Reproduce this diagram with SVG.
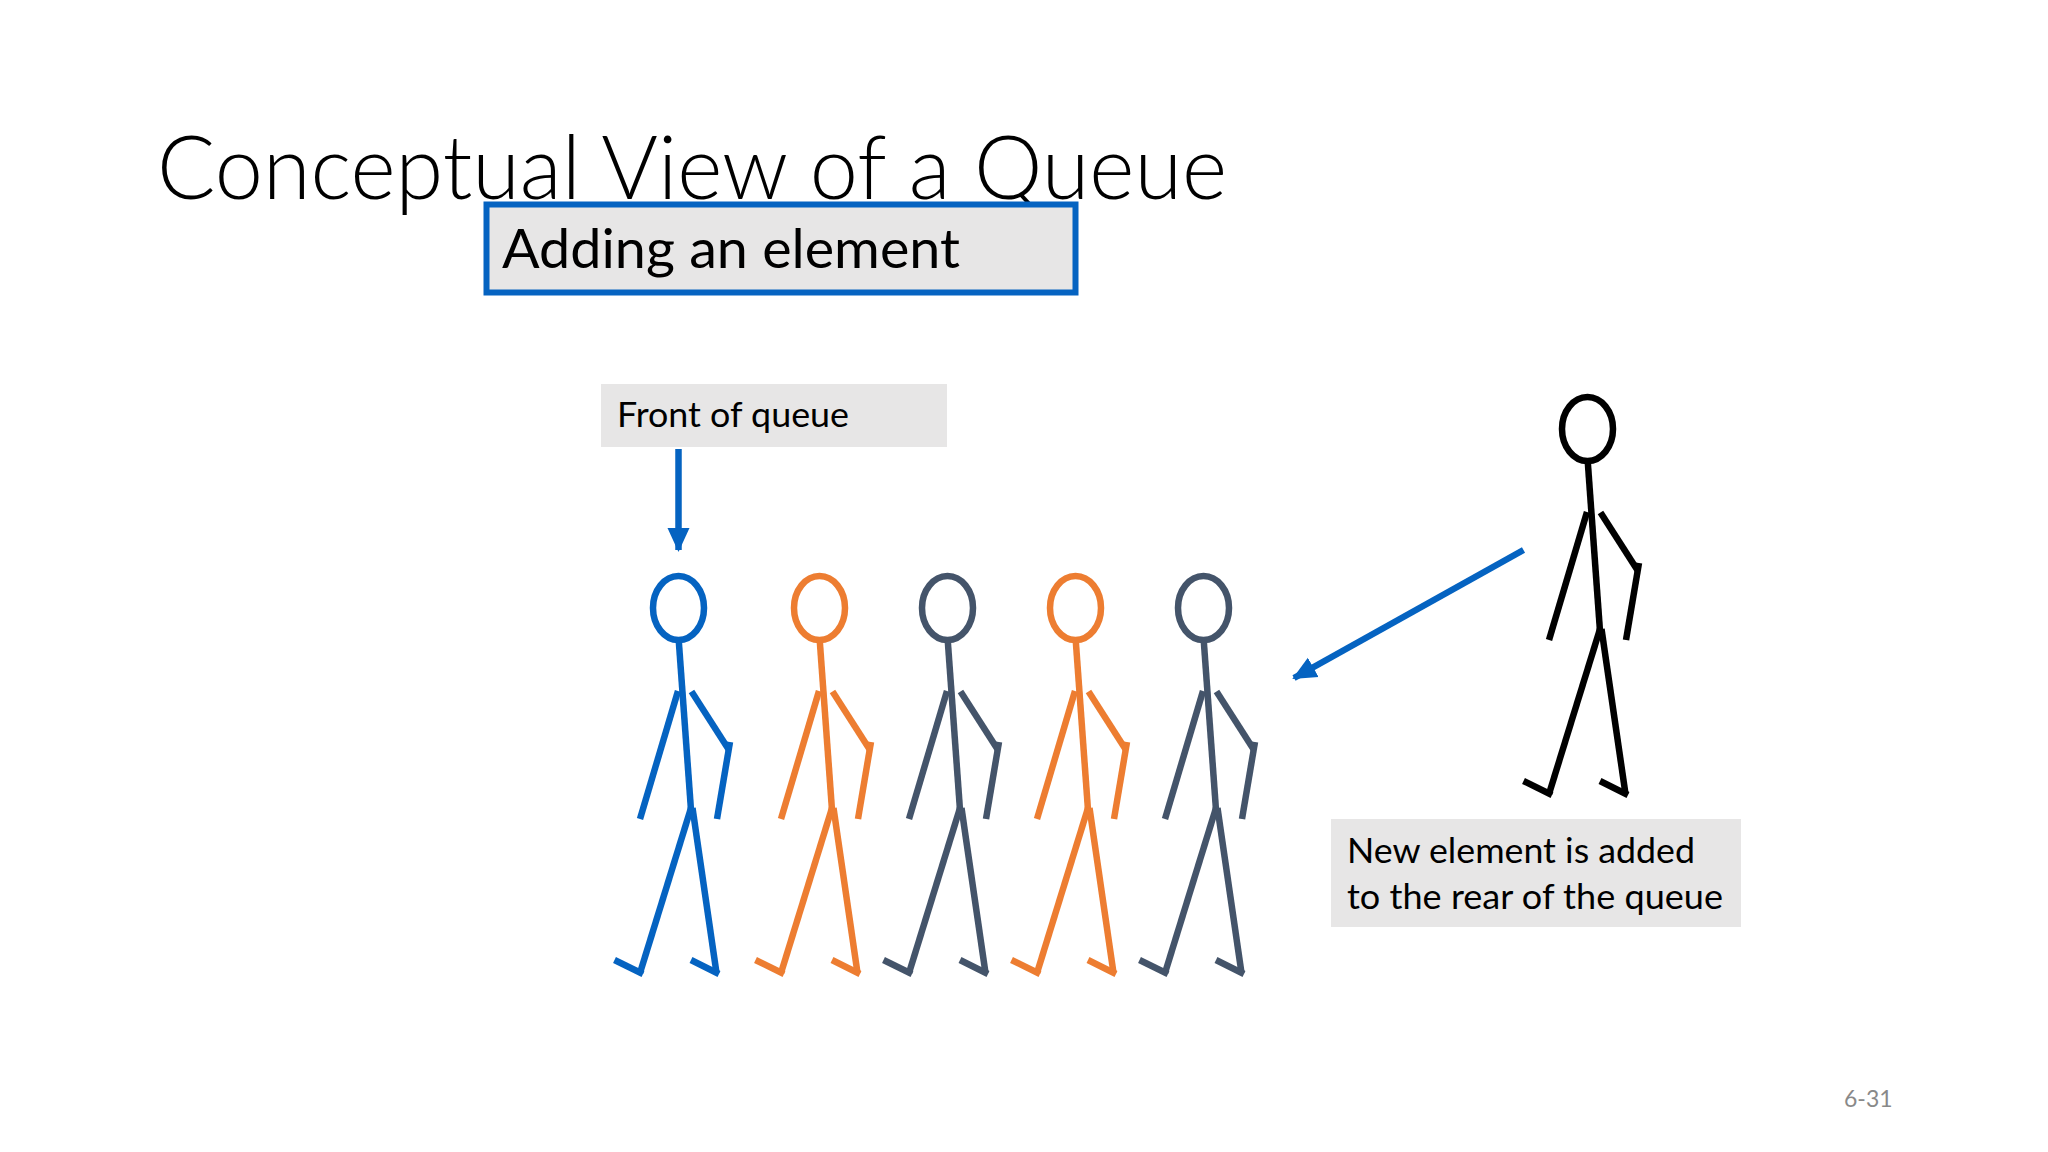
<svg xmlns="http://www.w3.org/2000/svg" width="2048" height="1152" viewBox="0 0 2048 1152">
<style>
text{font-family:Lato,"Open Sans","Liberation Sans",sans-serif;fill:#000}
.t{font-weight:300;font-size:89px}
.b{font-size:55px}
.s{font-size:35px}
.p{fill:none;stroke-width:6.5;stroke-linecap:butt;stroke-linejoin:miter}
.box{fill:#e7e6e6}
.c{fill:none;stroke:#0563c1;stroke-width:6.5}
</style>
<defs>
<marker id="ah" markerUnits="userSpaceOnUse" markerWidth="26" markerHeight="24" refX="22" refY="12" orient="auto"><path d="M0 1L24 12L0 23Z" fill="#0563c1"/></marker>
<g id="man">
<ellipse cx="678.5" cy="608" rx="25.5" ry="32"/>
<path d="M678.7 640L691 810"/>
<path d="M678 691L640 819"/>
<path d="M691.5 691.5L729 750"/>
<path d="M730 742L717 819"/>
<path d="M691 808L640 973"/>
<path d="M692.5 808L716.5 973"/>
<path d="M643 974L614.5 960"/>
<path d="M719 974L691 960"/>
</g>
</defs>
<rect width="2048" height="1152" fill="#fff"/>
<text id="title" class="t" x="157" y="199" textLength="1070" lengthAdjust="spacingAndGlyphs">Conceptual View of a Queue</text>
<g id="adding"><rect x="486.5" y="204.5" width="589" height="88" class="box" stroke="#0563c1" stroke-width="6"/><text class="b" x="502" y="268" textLength="458" lengthAdjust="spacingAndGlyphs">Adding an element</text></g>
<g id="front-label"><rect x="601" y="384" width="346" height="63" class="box"/><text class="s" x="617" y="427" textLength="232" lengthAdjust="spacingAndGlyphs">Front of queue</text></g>
<g id="rear-label"><rect x="1331" y="819" width="410" height="108" class="box"/><text class="s" x="1347" y="863" textLength="348" lengthAdjust="spacingAndGlyphs">New element is added</text><text class="s" x="1347" y="909" textLength="376" lengthAdjust="spacingAndGlyphs">to the rear of the queue</text></g>
<g id="person-1" class="p" stroke="#0563c1"><use href="#man"/></g>
<g id="person-2" class="p" stroke="#ed7d31"><use href="#man" x="141"/></g>
<g id="person-3" class="p" stroke="#44546a"><use href="#man" x="269"/></g>
<g id="person-4" class="p" stroke="#ed7d31"><use href="#man" x="397"/></g>
<g id="person-5" class="p" stroke="#44546a"><use href="#man" x="525"/></g>
<g id="person-new" class="p" stroke="#000"><use href="#man" x="909" y="-179"/></g>
<g id="connectors">
<path class="c" d="M678.5 449V550" marker-end="url(#ah)"/>
<path class="c" d="M1523.5 550L1294 678" marker-end="url(#ah)"/>
</g>
<text id="page" x="1844" y="1107" style="font-size:23px;fill:#898989">6-31</text>
</svg>
